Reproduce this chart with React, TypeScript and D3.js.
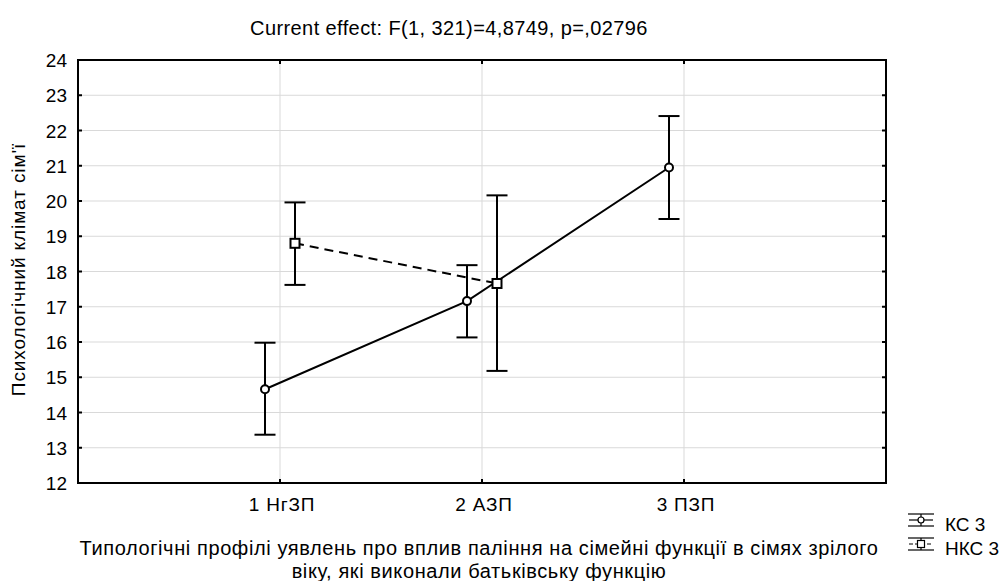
import React from "react";
import * as d3 from "d3";

const categories = ["1 НгЗП", "2 АЗП", "3 ПЗП"];
const ksMean = [14.66, 17.16, 20.95];
const ksLower = [13.37, 16.13, 19.49];
const ksUpper = [15.98, 18.18, 22.41];
const nksMean = [18.8, 17.66];
const nksLower = [17.62, 15.18];
const nksUpper = [19.96, 20.16];
const yTicks = [12, 13, 14, 15, 16, 17, 18, 19, 20, 21, 22, 23, 24];
const seriesNames = ["КС 3", "НКС 3"];

const W = 1006, H = 581;
const L = 78, R = 886, T = 60, B = 483;
const FONT = "'Liberation Sans', Arial, sans-serif";

export default function App() {
  const x = d3.scaleLinear().domain([0, 4]).range([L, R]);
  const y = d3.scaleLinear().domain([12, 24]).range([B, T]);
  const off = 15;
  const ks = ksMean.map((m, i) => ({ x: x(i + 1) - off, m, lo: ksLower[i], hi: ksUpper[i] }));
  const nks = nksMean.map((m, i) => ({ x: x(i + 1) + off, m, lo: nksLower[i], hi: nksUpper[i] }));
  const line = d3.line<any>().x((d) => d.x).y((d) => y(d.m));
  const cap = 10.5;

  const errBar = (d: any, k: string) => (
    <g key={k} stroke="#000" strokeWidth={2}>
      <line x1={d.x} x2={d.x} y1={y(d.hi)} y2={y(d.lo)} />
      <line x1={d.x - cap} x2={d.x + cap} y1={y(d.hi)} y2={y(d.hi)} />
      <line x1={d.x - cap} x2={d.x + cap} y1={y(d.lo)} y2={y(d.lo)} />
    </g>
  );

  return (
    <svg width={W} height={H} style={{ position: "absolute", left: 0, top: 0, background: "#fff" }} fontFamily={FONT}>
      <rect x={0} y={0} width={W} height={H} fill="#fff" />
      <text x={449} y={35} fontSize={20} textAnchor="middle" letterSpacing={0.4}>
        Current effect: F(1, 321)=4,8749, p=,02796
      </text>
      {/* grid */}
      {yTicks.slice(1, -1).map((t) => (
        <line key={"gy" + t} x1={L} x2={R} y1={y(t)} y2={y(t)} stroke="#d9d9d9" strokeWidth={1} />
      ))}
      {categories.map((c, i) => (
        <line key={"gx" + i} x1={x(i + 1)} x2={x(i + 1)} y1={T} y2={B} stroke="#d9d9d9" strokeWidth={1} />
      ))}
      {/* frame */}
      <rect x={L} y={T} width={R - L} height={B - T} fill="none" stroke="#000" strokeWidth={2} />
      {yTicks.map((t) => (
        <g key={"ty" + t}>
          <line x1={L} x2={L + 4} y1={y(t)} y2={y(t)} stroke="#000" strokeWidth={2} />
          <line x1={R - 4} x2={R} y1={y(t)} y2={y(t)} stroke="#000" strokeWidth={2} />
          <text x={L - 11} y={y(t) + 7} fontSize={19} textAnchor="end">{t}</text>
        </g>
      ))}
      {categories.map((c, i) => (
        <g key={"tx" + i}>
          <line x1={x(i + 1)} x2={x(i + 1)} y1={T} y2={T + 4} stroke="#000" strokeWidth={2} />
          <line x1={x(i + 1)} x2={x(i + 1)} y1={B - 4} y2={B} stroke="#000" strokeWidth={2} />
          <text x={x(i + 1) + 2} y={511} fontSize={19} textAnchor="middle" letterSpacing={0.8}>{c}</text>
        </g>
      ))}
      {/* lines */}
      <path d={line(nks) || ""} fill="none" stroke="#000" strokeWidth={2} strokeDasharray="9,6" />
      <path d={line(ks) || ""} fill="none" stroke="#000" strokeWidth={2} />
      {ks.map((d, i) => errBar(d, "ek" + i))}
      {nks.map((d, i) => errBar(d, "en" + i))}
      {ks.map((d, i) => (
        <circle key={"ck" + i} cx={d.x} cy={y(d.m)} r={4} fill="#fff" stroke="#000" strokeWidth={2} />
      ))}
      {nks.map((d, i) => (
        <rect key={"rn" + i} x={d.x - 4.5} y={y(d.m) - 4.5} width={9} height={9} fill="#fff" stroke="#000" strokeWidth={2} />
      ))}
      {/* axis titles */}
      <text transform={`translate(25,${(T + B) / 2 - 2}) rotate(-90)`} fontSize={19} textAnchor="middle" letterSpacing={0.9}>
        Психологічний клімат сім'ї
      </text>
      <text x={479} y={555} fontSize={20} textAnchor="middle" letterSpacing={0.6}>
        Типологічні профілі уявлень про вплив паління на сімейні функції в сімях зрілого
      </text>
      <text x={479} y={578} fontSize={20} textAnchor="middle" letterSpacing={0.6}>
        віку, які виконали батьківську функцію
      </text>
      {/* legend */}
      {seriesNames.map((s, i) => {
        const cy = 520 + i * 24;
        const cx = 921;
        return (
          <g key={"lg" + i}>
            <line x1={cx - 13} x2={cx + 13} y1={cy - 6} y2={cy - 6} stroke="#000" strokeWidth={1.2} />
            <line x1={cx - 13} x2={cx + 13} y1={cy + 6} y2={cy + 6} stroke="#000" strokeWidth={1.2} />
            <line x1={cx} x2={cx} y1={cy - 6} y2={cy + 6} stroke="#000" strokeWidth={1.2} />
            <line x1={cx - 12} x2={cx + 12} y1={cy} y2={cy} stroke="#000" strokeWidth={1.2} strokeDasharray={i === 1 ? "4,2" : undefined} />
            {i === 0 ? (
              <circle cx={cx} cy={cy} r={3} fill="#fff" stroke="#000" strokeWidth={1.2} />
            ) : (
              <rect x={cx - 3.5} y={cy - 3.5} width={7} height={7} fill="#fff" stroke="#000" strokeWidth={1.2} />
            )}
            <text x={945} y={cy + 11} fontSize={19}>{s}</text>
          </g>
        );
      })}
    </svg>
  );
}
